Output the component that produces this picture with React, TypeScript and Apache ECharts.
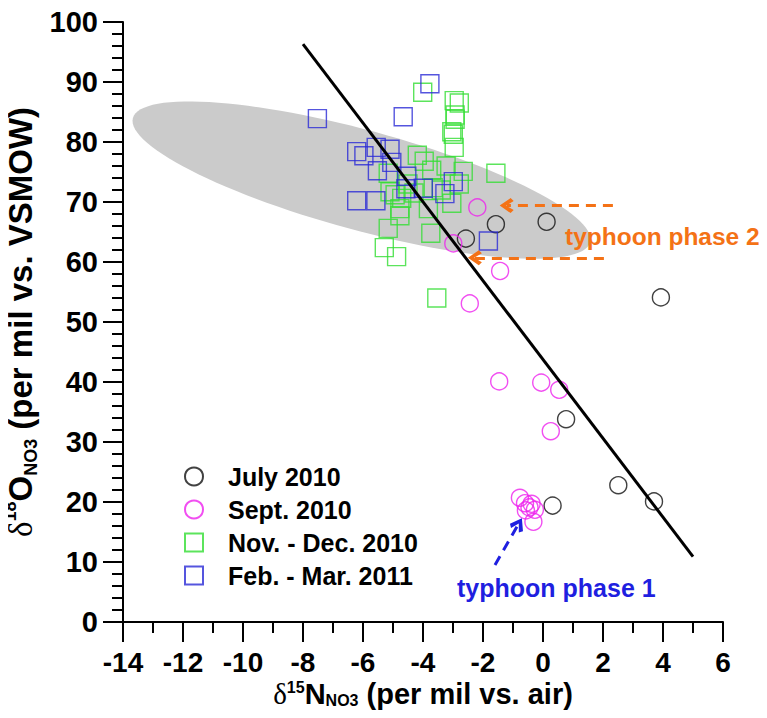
import React, { useEffect, useRef } from "react";
import * as echarts from "echarts";

// ---- data ----
const SERIES_NAMES = ["July 2010", "Sept. 2010", "Nov. - Dec. 2010", "Feb. - Mar. 2011"];

const july: [number, number][] = [
  [-2.57, 63.9], [-1.57, 66.3], [0.12, 66.7], [3.93, 54.1],
  [0.77, 33.8], [0.32, 19.4], [2.51, 22.8], [3.7, 20.1],
];

const sept: [number, number][] = [
  [-2.19, 69.1], [-2.99, 63.1], [-1.43, 58.5], [-2.44, 53.1],
  [-1.46, 40.1], [-0.06, 39.9], [0.54, 38.7], [0.26, 31.8],
  [-0.77, 20.7], [-0.6, 19.8], [-0.38, 19.7], [-0.57, 18.6],
  [-0.27, 18.7], [-0.32, 16.7], [-0.45, 19.1],
];

const novDec: [number, number][] = [
  [-4.01, 88.3], [-2.96, 86.9], [-2.79, 86.5], [-2.93, 84.5], [-2.93, 83.8],
  [-3.04, 81.7], [-2.99, 81.3], [-2.96, 79.1], [-4.19, 77.8], [-3.96, 76.8],
  [-3.71, 75.3], [-3.23, 76.0], [-2.66, 75.1], [-1.57, 74.8], [-5.16, 74.8],
  [-5.1, 71.7], [-4.93, 71.2], [-4.71, 70.6], [-3.66, 72.4], [-3.39, 72.0],
  [-2.79, 73.0], [-3.04, 69.8], [-3.82, 68.9], [-4.77, 68.9], [-4.77, 67.7],
  [-5.16, 65.6], [-3.74, 64.8], [-5.29, 62.4], [-4.88, 60.9], [-3.54, 54.0],
  [-4.5, 73.0], [-4.3, 71.5],
];

const febMar: [number, number][] = [
  [-3.77, 89.7], [-7.52, 83.9], [-4.66, 84.2], [-6.21, 78.4], [-5.97, 77.7],
  [-5.56, 79.1], [-5.1, 78.8], [-5.52, 75.2], [-5.04, 76.6], [-4.54, 74.3],
  [-4.57, 72.2], [-3.99, 72.3], [-2.99, 73.4], [-3.27, 71.4], [-6.21, 70.2],
  [-5.57, 70.2], [-1.82, 63.5],
];

// regression line end points
const regression: [number, number][] = [[-8, 96.3], [5, 10.9]];

// grey ellipse: the two tips of its long axis [x1, y1, x2, y2]
const ellipseTips: number[] = [-13.67, 84.0, 1.57, 63.3];

// arrows: [fromX, fromY, toX, toY]
const arrowPhase2Upper: number[] = [2.33, 69.4, -1.21, 69.4];
const arrowPhase2Lower: number[] = [2.03, 60.7, -2.27, 60.7];
const arrowPhase1: number[] = [-1.6, 9.5, -0.82, 16.3];

const xTicks = { min: -14, max: 6, interval: 2 };
const yTicks = { min: 0, max: 100, interval: 10 };

// ---- styles ----
const FONT = "'Liberation Sans', Arial, Helvetica, sans-serif";
const ORANGE = "#f47216";
const BLUE_ANN = "#1f1fe0";
const ELLIPSE_HALF_WIDTH = 50;
const CHEVRON = "path://M5,0 L10,7 L8,9 L5,4 L2,9 L0,7 Z";

export default function App() {
  const ref = useRef<HTMLDivElement>(null);

  useEffect(() => {
    if (!ref.current) return;
    const chart = echarts.init(ref.current, null, { renderer: "svg" });

    const richName = (size: number, lh: number) => ({
      d: { fontFamily: "'Liberation Serif', 'DejaVu Serif', serif", fontSize: size, fontWeight: "normal", color: "#000", lineHeight: lh },
      sup: { fontFamily: FONT, fontSize: Math.round(size * 0.55), fontWeight: "bold", color: "#000", lineHeight: 15, verticalAlign: "top" },
      b: { fontFamily: FONT, fontSize: size, fontWeight: "bold", color: "#000", lineHeight: lh },
      sub: { fontFamily: FONT, fontSize: Math.round(size * 0.55), fontWeight: "bold", color: "#000", lineHeight: 15, verticalAlign: "bottom" },
    });

    const scatterSeries = (name: string, data: [number, number][], symbol: string, color: string, size: number) => ({
      type: "scatter",
      name,
      data,
      symbol,
      symbolSize: size,
      z: 3,
      itemStyle: { color: "rgba(255,255,255,0)", borderColor: color, borderWidth: 1.4 },
      emphasis: { disabled: true },
    });

    const arrowItem = (a: number[], color: string) => [
      { coord: [a[0], a[1]], lineStyle: { color, width: 3, type: [10, 7] } },
      { coord: [a[2], a[3]] },
    ];

    chart.setOption({
      animation: false,
      backgroundColor: "#fff",
      grid: { left: 123, right: 44, top: 22, bottom: 96, containLabel: false, outerBoundsMode: "none" },
      xAxis: {
        type: "value",
        min: xTicks.min,
        max: xTicks.max,
        interval: xTicks.interval,
        axisLine: { show: true, onZero: false, lineStyle: { color: "#000", width: 2 } },
        axisTick: { show: true, inside: false, length: 20, lineStyle: { color: "#000", width: 2 } },
        minorTick: { show: true, splitNumber: 2, length: 11, lineStyle: { color: "#000", width: 2 } },
        splitLine: { show: false },
        minorSplitLine: { show: false },
        axisLabel: { fontFamily: FONT, fontSize: 28, fontWeight: "bold", color: "#000", margin: 26, lineHeight: 28 },
        name: "{d|δ}{sup|15}{b|N}{sub|NO3}{b| (per mil vs. air)}",
        nameLocation: "middle",
        nameGap: 57,
        nameMoveOverlap: false,
        nameTextStyle: { rich: richName(29, 29) },
      },
      yAxis: {
        type: "value",
        min: yTicks.min,
        max: yTicks.max,
        interval: yTicks.interval,
        axisLine: { show: true, onZero: false, lineStyle: { color: "#000", width: 2 } },
        axisTick: { show: true, inside: false, length: 20, lineStyle: { color: "#000", width: 2 } },
        minorTick: { show: true, splitNumber: 5, length: 11, lineStyle: { color: "#000", width: 2 } },
        splitLine: { show: false },
        minorSplitLine: { show: false },
        axisLabel: { fontFamily: FONT, fontSize: 29, fontWeight: "bold", color: "#000", margin: 25 },
        name: "{d|δ}{sup|18}{b|O}{sub|NO3}{b| (per mil vs. VSMOW)}",
        nameLocation: "middle",
        nameGap: 83,
        nameMoveOverlap: false,
        nameTextStyle: { rich: richName(33, 39) },
      },
      legend: {
        data: SERIES_NAMES,
        orient: "vertical",
        left: 184,
        top: 464,
        itemWidth: 18,
        itemHeight: 18,
        itemGap: 8,
        padding: 0,
        selectedMode: false,
        textStyle: { fontFamily: FONT, fontSize: 25, fontWeight: "bold", color: "#000", padding: [0, 0, 0, 20] },
      },
      series: [
        {
          type: "custom",
          name: "ellipse",
          z: 1,
          silent: true,
          data: [ellipseTips],
          renderItem: (params: any, api: any) => {
            const p1 = api.coord([api.value(0), api.value(1)]);
            const p2 = api.coord([api.value(2), api.value(3)]);
            const cx = (p1[0] + p2[0]) / 2;
            const cy = (p1[1] + p2[1]) / 2;
            const a = Math.hypot(p2[0] - p1[0], p2[1] - p1[1]) / 2;
            const ang = Math.atan2(p2[1] - p1[1], p2[0] - p1[0]);
            const pts: number[][] = [];
            for (let i = 0; i < 120; i++) {
              const t = (i / 120) * Math.PI * 2;
              const u = a * Math.cos(t);
              const v = ELLIPSE_HALF_WIDTH * Math.sin(t);
              pts.push([cx + u * Math.cos(ang) - v * Math.sin(ang), cy + u * Math.sin(ang) + v * Math.cos(ang)]);
            }
            return { type: "polygon", shape: { points: pts }, style: { fill: "#cbcbcb", stroke: "none" } };
          },
        },
        scatterSeries(SERIES_NAMES[0], july, "circle", "#111111", 17),
        scatterSeries(SERIES_NAMES[1], sept, "circle", "#ee22ee", 17),
        scatterSeries(SERIES_NAMES[2], novDec, "rect", "#33dd33", 18),
        scatterSeries(SERIES_NAMES[3], febMar, "rect", "#2a2ad6", 18),
        {
          type: "line",
          name: "regression",
          data: regression,
          symbol: "none",
          z: 4,
          silent: true,
          lineStyle: { color: "#000", width: 3 },
        },
        {
          type: "line",
          name: "arrows",
          data: [],
          z: 5,
          markLine: {
            silent: true,
            symbol: ["none", CHEVRON],
            symbolSize: [15, 14],
            label: { show: false },
            emphasis: { disabled: true },
            data: [
              arrowItem(arrowPhase2Upper, ORANGE),
              arrowItem(arrowPhase2Lower, ORANGE),
              arrowItem(arrowPhase1, BLUE_ANN),
            ],
          },
        },
      ],
      graphic: [
        {
          type: "text",
          left: 565,
          top: 224,
          z: 100,
          style: { text: "typhoon phase 2", fill: ORANGE, font: `bold 24.5px ${FONT}` },
        },
        {
          type: "text",
          left: 457,
          top: 575,
          z: 100,
          style: { text: "typhoon phase 1", fill: BLUE_ANN, font: `bold 25px ${FONT}` },
        },
      ],
    });

    return () => chart.dispose();
  }, []);

  return <div ref={ref} style={{ width: 767, height: 718, margin: -8 }} />;
}
